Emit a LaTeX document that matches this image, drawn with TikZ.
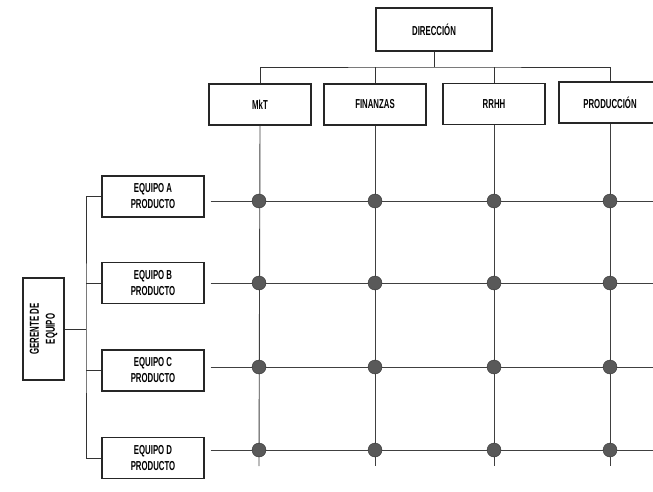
\documentclass[tikz,border=0pt]{standalone}
\usepackage{fontspec}
\setmainfont{Liberation Sans}[FakeStretch=0.6]
\begin{document}
\begin{tikzpicture}[x=1pt,y=-1pt,
  box/.style={draw=black!85,line width=1.3pt,fill=white,minimum width=102pt,
    minimum height=41pt,inner sep=1pt,align=center,font=\fontsize{13}{16}\selectfont\bfseries},
  link/.style={draw=black!80,line width=0.9pt},
  grid/.style={draw=black!75,line width=0.9pt},
  knot/.style={circle,fill=black!65,draw=black!80,line width=0.4pt,minimum size=14pt,inner sep=0pt}]
\useasboundingbox (0,0) rectangle (653,492);

% top of the matrix: management and departments
\node[box,minimum width=116pt,minimum height=43pt] (dir) at (434,29.5) {DIRECCIÓN};
\node[box] (mkt)  at (260,104.5) {MkT};
\node[box] (fin)  at (375,104.5) {FINANZAS};
\node[box] (rrhh) at (494,104) {RRHH};
\node[box] (prod) at (610,102.5) {PRODUCCIÓN};

\coordinate (bus) at (434,67);
\draw[link] (dir.south) -- (bus);
\draw[link] (mkt.north) |- (bus) -| (prod.north);
\draw[link] (fin.north) -- (fin.north |- bus);
\draw[link] (rrhh.north) -- (rrhh.north |- bus);

% left side: team manager and product teams
\node[box,minimum width=102pt,minimum height=41pt,rotate=90] (ger) at (43.5,329) {GERENTE DE\\EQUIPO};
\node[box] (ta) at (153,196.5) {EQUIPO A\\PRODUCTO};
\node[box] (tb) at (153,283)   {EQUIPO B\\PRODUCTO};
\node[box] (tc) at (153,370.5) {EQUIPO C\\PRODUCTO};
\node[box] (td) at (153,458)   {EQUIPO D\\PRODUCTO};

\coordinate (lb) at (86,329);
\draw[link] (ger.south) -- (lb);
\draw[link] (ta.west) -| (lb) |- (td.west);
\draw[link] (tb.west) -- (tb.west -| lb);
\draw[link] (tc.west) -- (tc.west -| lb);

% column ends at the bottom
\coordinate (ea) at (259,466);
\coordinate (eb) at (375,466);
\coordinate (ec) at (494,466);
\coordinate (ed) at (610,466);
\draw[grid] (mkt.south)  -- (ea);
\draw[grid] (fin.south)  -- (eb);
\draw[grid] (rrhh.south) -- (ec);
\draw[grid] (prod.south) -- (ed);

% row ends at the right
\foreach \r/\y in {a/201,b/283,c/367,d/450}{
  \coordinate (row\r) at (653,\y);
}
\draw[grid] ([xshift=6pt]ta.east |- rowa) -- (rowa);
\draw[grid] ([xshift=6pt]tb.east |- rowb) -- (rowb);
\draw[grid] ([xshift=6pt]tc.east |- rowc) -- (rowc);
\draw[grid] ([xshift=6pt]td.east |- rowd) -- (rowd);

% crossing points
\foreach \c/\x in {1/259,2/375,3/494,4/610}{
  \foreach \r/\y in {a/201,b/283,c/367,d/450}{
    \node[knot] (k\c\r) at (\x,\y) {};
  }
}
\end{tikzpicture}
\end{document}
